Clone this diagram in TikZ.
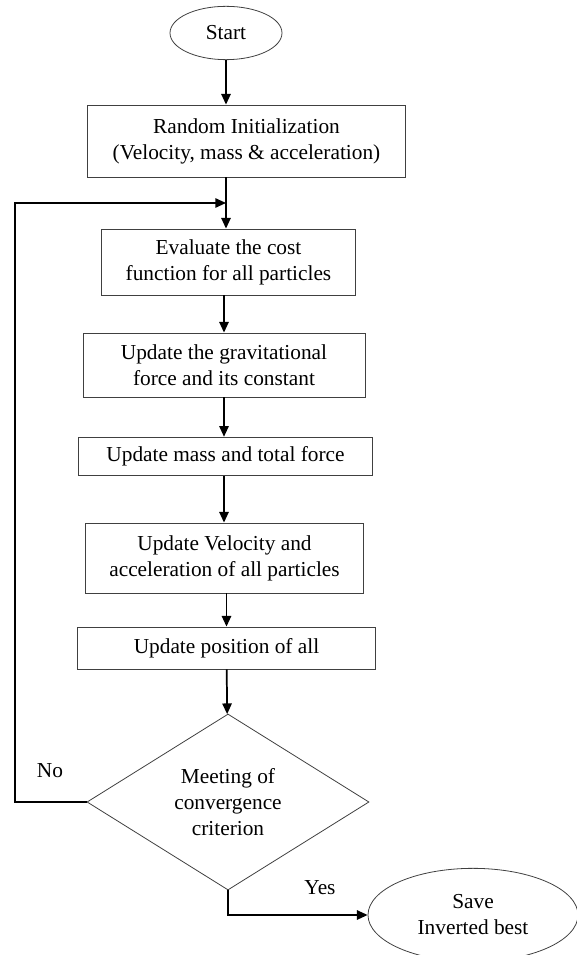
\documentclass[tikz,border=0pt]{standalone}
\usepackage{fontspec}
\setmainfont{Liberation Serif}
\usetikzlibrary{shapes.geometric,arrows.meta}
\begin{document}
\begin{tikzpicture}[x=0.75pt,y=-0.75pt,
    box/.style={draw=black!75, line width=0.6pt, align=center, inner sep=0pt,
        font=\fontsize{16}{19.5}\selectfont},
    term/.style={box, ellipse},
    decide/.style={box, diamond, shape aspect=1.6},
    flow/.style={line width=1.3pt, -{Triangle[length=8pt,width=7pt]}},
    tag/.style={font=\fontsize{16}{19.5}\selectfont}]
\useasboundingbox (0,0) rectangle (577,955);
\node[term, minimum width=84pt, minimum height=40pt] (start) at (226,33) {Start};
\node[box, minimum width=239pt, minimum height=54pt] (init) at (246.5,141)
    {Random Initialization\\(Velocity, mass \& acceleration)};
\node[box, minimum width=191pt, minimum height=49.5pt] (eval) at (228.5,262)
    {Evaluate the cost\\function for all particles};
\node[box, minimum width=211.5pt, minimum height=48pt] (grav) at (224,365)
    {Update the gravitational\\force and its constant};
\node[box, minimum width=221pt, minimum height=29pt] (mass) at (225.5,456.5)
    {Update mass and total force};
\node[box, minimum width=208pt, minimum height=52.5pt] (vel) at (224.5,558)
    {Update Velocity and\\acceleration of all particles};
\node[box, minimum width=223pt, minimum height=31.5pt] (pos) at (226.5,648)
    {Update position of all};
\node[decide, minimum width=211.5pt, minimum height=132pt] (dec) at (228,802)
    {Meeting of\\convergence\\criterion};
\node[term, minimum width=157.5pt, minimum height=70pt] (save) at (473,915)
    {Save\\Inverted best};
\node[tag] (no) at (50,771) {No};
\node[tag] (yes) at (320,888) {Yes};
\coordinate (join) at (226,203);
\draw[flow] (start) -- (start |- init.north);
\draw[flow] (init.south -| start) -- (eval.north -| start);
\draw[flow] (eval.south -| grav) -- (grav.north);
\draw[flow] (grav) -- (grav |- mass.north);
\draw[flow] (mass.south -| grav) -- (vel.north -| grav);
\draw[flow] (vel.south -| pos) -- (pos);
\draw[flow] (pos) -- (dec);
\draw[flow] (dec.west) -| (15,203) -- (join);
\draw[flow] (dec.south) |- (save.west);
\end{tikzpicture}
\end{document}
